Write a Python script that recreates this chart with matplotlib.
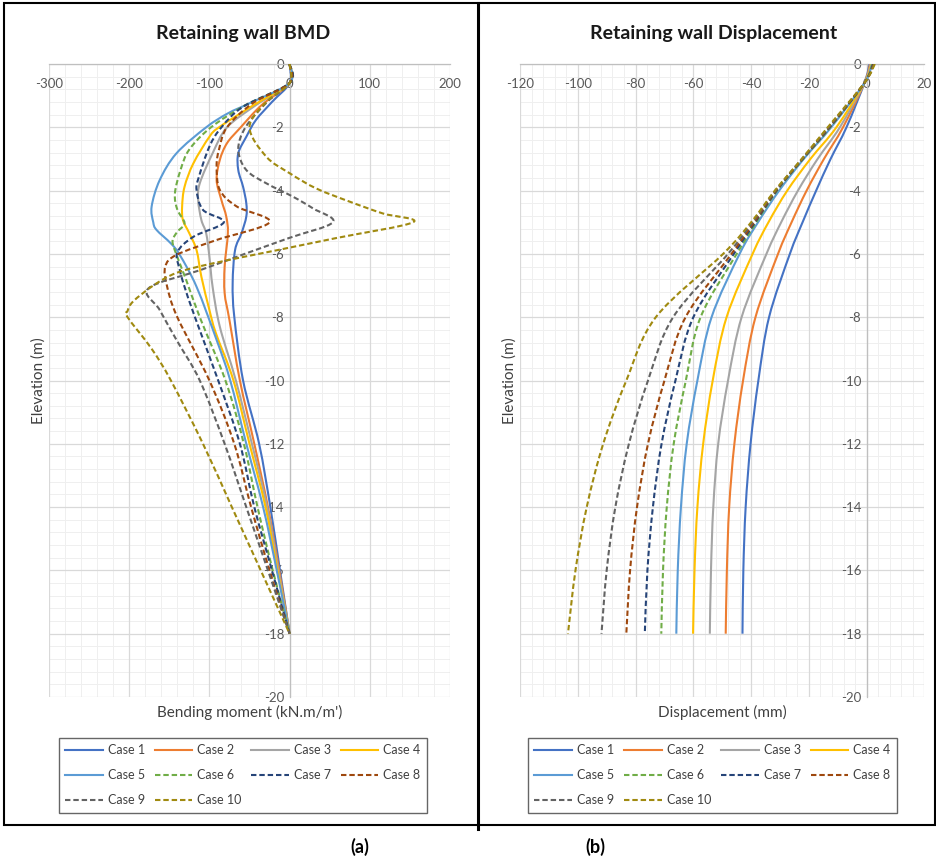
import matplotlib
matplotlib.use('Agg')
import matplotlib.pyplot as plt
from matplotlib.ticker import MultipleLocator, FuncFormatter
from matplotlib.lines import Line2D
from matplotlib.patches import Rectangle, PathPatch
from matplotlib.path import Path

plt.rcParams['font.family'] = ['Lato', 'DejaVu Sans']
plt.rcParams['axes.unicode_minus'] = False

# ---------------- data: bending moment (kN.m/m') vs elevation (m) ----------------
case_labels = ["Case 1", "Case 2", "Case 3", "Case 4", "Case 5",
               "Case 6", "Case 7", "Case 8", "Case 9", "Case 10"]

bmd_elev_1 = [0, -0.6, -1.2, -1.77, -2.3, -2.82, -3.35, -3.88, -4.4, -4.82, -5.35, -5.88, -6.93, -7.98, -10, -12, -14, -16, -18]
bmd_m_1 = [0, 0, -22, -42, -54, -64, -64, -58, -54, -54, -60, -68, -71, -69, -58, -38, -24, -12, 0]

bmd_elev_2 = [0, -0.6, -1.3, -2.03, -2.5, -3.03, -3.67, -4.3, -4.82, -5.35, -6.4, -7.24, -8.09, -10, -12, -14, -16, -18]
bmd_m_2 = [0, 0, -35, -62, -78, -87, -91, -85, -79, -77, -81, -81, -75, -62, -44, -27, -13, 0]

bmd_elev_3 = [0, -0.6, -1.3, -2.0, -2.82, -3.77, -4.3, -4.93, -5.35, -6.09, -7.04, -8.3, -10, -12, -14, -16, -18]
bmd_m_3 = [0, 0, -42, -78, -96, -112, -114, -110, -104, -100, -96, -87, -67, -47, -28, -14, 0]

bmd_elev_4 = [0, -0.6, -1.3, -2.0, -2.3, -3.14, -3.88, -4.5, -4.93, -5.35, -5.88, -6.72, -7.77, -8.5, -10, -12, -14, -16, -18]
bmd_m_4 = [0, 0, -45, -88, -100, -120, -131, -134, -133, -125, -116, -110, -100, -92, -70, -50, -30, -15, 0]

bmd_elev_5 = [0, -0.6, -1.24, -1.56, -2.0, -2.82, -3.67, -4.5, -5.0, -5.24, -5.67, -6.03, -7.04, -8.72, -10, -12, -14, -16, -18]
bmd_m_5 = [0, 0, -50, -77, -104, -141, -162, -172, -170, -166, -148, -137, -116, -91, -74, -54, -33, -16, 0]

bmd_elev_6 = [0, -0.6, -1.3, -2.0, -2.7, -3.35, -4.09, -4.6, -5.03, -5.3, -5.6, -6.03, -6.82, -8.0, -10, -12, -14, -16, -18]
bmd_m_6 = [0, 0, -55, -98, -125, -136, -143, -140, -131, -140, -146, -141, -129, -112, -80, -57, -40, -21, 0]

bmd_elev_7 = [0, -0.6, -1.35, -2.0, -2.61, -3.56, -3.98, -4.61, -5.0, -5.46, -5.95, -6.5, -7.04, -8.0, -10, -12, -14, -16, -18]
bmd_m_7 = [0, 0, -58, -85, -100, -113, -116, -108, -82, -120, -140, -137, -131, -118, -89, -62, -44, -22, 0]

bmd_elev_8 = [0, -0.6, -1.24, -2.0, -2.7, -3.24, -3.98, -4.5, -5.0, -5.56, -6.03, -6.4, -7.0, -8.0, -10, -12, -14, -16, -18]
bmd_m_8 = [0, 0, -46, -78, -88, -91, -87, -66, -25, -91, -141, -155, -153, -140, -100, -69, -48, -25, 0]

bmd_elev_9 = [0, -0.6, -1.2, -2.0, -2.7, -3.35, -3.77, -4.19, -4.56, -5.0, -5.5, -6.0, -6.5, -7.09, -7.77, -8.72, -10, -12, -14, -16, -18]
bmd_m_9 = [0, 0, -28, -55, -64, -54, -29, 4, 29, 54, -1, -56, -110, -176, -162, -141, -112, -81, -54, -27, 0]

bmd_elev_10 = [0, -0.6, -1.2, -2.0, -2.93, -3.45, -3.93, -4.35, -4.72, -5.0, -5.5, -5.9, -6.3, -6.6, -7.0, -7.5, -7.8, -8.0, -9.0, -10, -12, -14, -16, -18]
bmd_m_10 = [0, 0, -29, -50, -29, 0, 33, 75, 116, 154, 58, -19, -96, -141, -170, -195, -202, -202, -172, -148, -108, -72, -36, 0]

# ---------------- data: displacement (mm) vs elevation (m) ----------------
disp_elev = [0, -0.6, -2, -3, -4, -5, -6, -8, -10, -12, -14, -16, -18]
disp_1 = [1.0, -0.8, -7.0, -12.5, -17.5, -22.2, -26.6, -33.8, -37.5, -40.2, -41.9, -42.7, -43.0]
disp_2 = [1.2, -0.8, -8.2, -14.8, -20.8, -26.0, -30.7, -38.5, -42.8, -45.8, -47.6, -48.4, -48.8]
disp_3 = [1.4, -0.8, -9.3, -17.0, -23.8, -29.6, -34.7, -43.3, -48.0, -51.4, -53.1, -53.9, -54.3]
disp_4 = [1.6, -0.8, -10.5, -19.5, -27.5, -34.0, -39.5, -48.5, -53.3, -56.6, -58.6, -59.6, -60.1]
disp_5 = [1.8, -0.8, -12.3, -21.8, -30.3, -37.6, -44.0, -53.7, -58.6, -62.3, -64.3, -65.4, -65.9]
disp_6 = [2.0, -0.8, -12.6, -22.0, -31.0, -38.2, -45.0, -57.5, -62.6, -66.8, -69.2, -70.5, -71.1]
disp_7 = [2.2, -0.8, -12.8, -22.2, -31.2, -38.6, -46.0, -60.0, -66.2, -71.0, -74.0, -75.9, -76.8]
disp_8 = [2.4, -0.8, -13.0, -22.3, -31.4, -39.0, -46.8, -62.7, -70.0, -75.7, -79.5, -81.9, -83.2]
disp_9 = [2.6, -0.8, -13.2, -22.4, -31.6, -39.5, -48.0, -67.0, -75.7, -82.3, -87.0, -90.0, -91.8]
disp_10 = [2.8, -0.8, -13.5, -22.5, -31.8, -40.0, -49.7, -73.0, -83.2, -91.2, -96.9, -100.8, -103.4]

bmd_elevs = [bmd_elev_1, bmd_elev_2, bmd_elev_3, bmd_elev_4, bmd_elev_5,
             bmd_elev_6, bmd_elev_7, bmd_elev_8, bmd_elev_9, bmd_elev_10]
bmd_moments = [bmd_m_1, bmd_m_2, bmd_m_3, bmd_m_4, bmd_m_5,
               bmd_m_6, bmd_m_7, bmd_m_8, bmd_m_9, bmd_m_10]
disps = [disp_1, disp_2, disp_3, disp_4, disp_5, disp_6, disp_7, disp_8, disp_9, disp_10]

# ---------------- styles ----------------
colors = ['#4472C4', '#ED7D31', '#A5A5A5', '#FFC000', '#5B9BD5',
          '#70AD47', '#264478', '#9E480E', '#636363', '#A08A10']
DASH = (0, (2.6, 1.4))
styles = ['-'] * 5 + [DASH] * 5
LW = 1.5

W, H = 937, 859
fig = plt.figure(figsize=(W / 100, H / 100), dpi=100)


def fx(px):
    return px / W


def fy(py):
    return 1 - py / H


ax1 = fig.add_axes([fx(49), fy(697), (450 - 49) / W, (697 - 64) / H])
ax2 = fig.add_axes([fx(520), fy(697), (924.5 - 520) / W, (697 - 64) / H])

fmt = FuncFormatter(lambda v, p: f"{int(round(v))}")


def style(ax, xlo, xhi, xmaj, xmnr):
    ax.set_xlim(xlo, xhi)
    ax.set_ylim(-20, 0)
    ax.xaxis.set_major_locator(MultipleLocator(xmaj))
    ax.xaxis.set_minor_locator(MultipleLocator(xmnr))
    ax.yaxis.set_major_locator(MultipleLocator(2))
    ax.yaxis.set_minor_locator(MultipleLocator(0.4))
    ax.xaxis.set_major_formatter(fmt)
    ax.yaxis.set_major_formatter(fmt)
    ax.grid(which='major', color='#D9D9D9', lw=0.9)
    # minor grid drawn as plain lines underneath, so tick labels stay on top
    for v in ax.xaxis.get_minorticklocs():
        ax.axvline(v, color='#EFEFEF', lw=0.7, zorder=0.1)
    for v in ax.yaxis.get_minorticklocs():
        ax.axhline(v, color='#EFEFEF', lw=0.7, zorder=0.1)
    ax.set_axisbelow(True)
    for s in ['top', 'right']:
        ax.spines[s].set_visible(False)
    ax.spines['left'].set_position(('data', 0))
    ax.spines['bottom'].set_position(('data', 0))
    for s in ['left', 'bottom']:
        ax.spines[s].set_color('#BFBFBF')
        ax.spines[s].set_linewidth(0.9)
    ax.tick_params(which='both', length=0)
    ax.tick_params(axis='x', pad=10, labelsize=9.5, labelcolor='#595959')
    ax.tick_params(axis='y', pad=4, labelsize=9.5, labelcolor='#595959')
    ax.patch.set_alpha(0)


def smooth_line(ax, xs, ys, **kw):
    """Excel-style smoothed line: cubic Bezier segments through the data points."""
    n = len(xs)
    verts = [(xs[0], ys[0])]
    codes = [Path.MOVETO]
    for i in range(n - 1):
        i0 = max(i - 1, 0)
        i3 = min(i + 2, n - 1)
        c1 = (xs[i] + (xs[i + 1] - xs[i0]) / 6.0, ys[i] + (ys[i + 1] - ys[i0]) / 6.0)
        c2 = (xs[i + 1] - (xs[i3] - xs[i]) / 6.0, ys[i + 1] - (ys[i3] - ys[i]) / 6.0)
        verts += [c1, c2, (xs[i + 1], ys[i + 1])]
        codes += [Path.CURVE4] * 3
    patch = PathPatch(Path(verts, codes), fill=False, **kw)
    ax.add_patch(patch)
    return patch


style(ax1, -300, 200, 100, 20)
style(ax2, -120, 20, 20, 4)

for i in range(10):
    smooth_line(ax1, bmd_moments[i], bmd_elevs[i], edgecolor=colors[i],
                linestyle=styles[i], lw=LW, zorder=3)
    smooth_line(ax2, disps[i], disp_elev, edgecolor=colors[i],
                linestyle=styles[i], lw=LW, zorder=3)

ax1.text(0.5, -0.024, "Bending moment (kN.m/m')", transform=ax1.transAxes,
         ha='center', va='center', fontsize=11, color='#404040')
ax1.text(-0.027, 0.5, "Elevation (m)", transform=ax1.transAxes, rotation=90,
         ha='center', va='center', fontsize=11, color='#404040')
ax2.text(0.5, -0.024, "Displacement (mm)", transform=ax2.transAxes,
         ha='center', va='center', fontsize=11, color='#404040')
ax2.text(-0.025, 0.5, "Elevation (m)", transform=ax2.transAxes, rotation=90,
         ha='center', va='center', fontsize=11, color='#404040')

fig.text(fx(243), fy(33), "Retaining wall BMD", ha='center', va='center',
         fontsize=14, fontweight='bold', color='#1a1a1a')
fig.text(fx(714), fy(33), "Retaining wall Displacement", ha='center', va='center',
         fontsize=14, fontweight='bold', color='#1a1a1a')

# legends (row-major order in a column-filled legend)
order = [0, 4, 8, 1, 5, 9, 2, 6, 3, 7]
handles = [Line2D([0], [0], color=colors[i], ls=styles[i], lw=LW) for i in range(10)]
for x0, x1 in [(59, 427), (528, 897)]:
    leg = fig.legend([handles[i] for i in order], [case_labels[i] for i in order],
                     ncol=4, loc='upper left',
                     bbox_to_anchor=(fx(x0), fy(738), (x1 - x0) / W, 0.0001),
                     mode='expand', fontsize=9, frameon=True, fancybox=False,
                     edgecolor='#404040', handlelength=3.0, handletextpad=0.4,
                     labelspacing=1.05, borderpad=0.5, borderaxespad=0)
    leg.get_frame().set_linewidth(1.0)
    for t in leg.get_texts():
        t.set_color('#404040')

# outer frame and divider
fig.add_artist(Rectangle((fx(4), fy(825)), (935 - 4) / W, (825 - 3) / H,
                         transform=fig.transFigure, fill=False, ec='black', lw=1.5))
fig.add_artist(Line2D([fx(478), fx(478)], [fy(3), fy(829)], transform=fig.transFigure,
                      color='black', lw=2.2))

fig.text(fx(360), fy(847), "(a)", ha='center', va='center', fontsize=13,
         fontweight='bold', color='black')
fig.text(fx(595), fy(847), "(b)", ha='center', va='center', fontsize=13,
         fontweight='bold', color='black')

fig.savefig('out.png', dpi=100)
